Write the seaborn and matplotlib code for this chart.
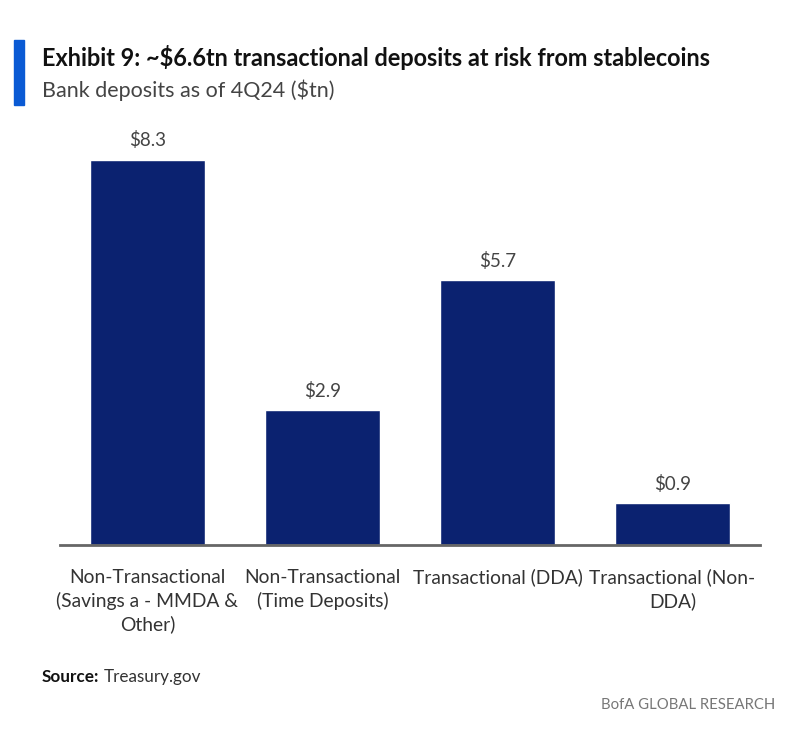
import matplotlib
matplotlib.use("Agg")
import matplotlib.pyplot as plt
import matplotlib.patches as mpatches
import seaborn as sns
import pandas as pd

categories = ["Non-Transactional\n(Savings a - MMDA &\nOther)",
              "Non-Transactional\n(Time Deposits)",
              "Transactional (DDA)",
              "Transactional (Non-\nDDA)"]
values = [8.3, 2.9, 5.7, 0.9]
value_labels = ["$8.3", "$2.9", "$5.7", "$0.9"]

sns.set_theme(style="white")
fam = ["Lato", "DejaVu Sans"]
plt.rcParams['font.family'] = fam

df = pd.DataFrame({"cat": categories, "val": values})

fig = plt.figure(figsize=(7.92, 7.34), dpi=100)
renderer = fig.canvas.get_renderer()


def fit(t, target_px):
    bb = t.get_window_extent(renderer=renderer)
    t.set_fontsize(t.get_fontsize() * target_px / bb.width)
    return t


ax = fig.add_axes([60/792, 1-545/734, 700/792, (545-127)/734])
sns.barplot(data=df, x="cat", y="val", color="#0b2270", width=0.657,
            saturation=1, ax=ax)
ax.set_xlim(-0.5, 3.5)
ax.set_ylim(0, 9.0)
for i, (v, lab) in enumerate(zip(values, value_labels)):
    ax.text(i, v + 0.22, lab, ha="center", va="bottom", fontsize=13.5,
            color="#444444")
ax.set_xlabel("")
ax.set_ylabel("")
ax.set_yticks([])
for s in ["top", "right", "left"]:
    ax.spines[s].set_visible(False)
ax.spines["bottom"].set_color("#666666")
ax.spines["bottom"].set_linewidth(2)

# tick label size fitted to reference width of "Transactional (DDA)"
probe = fig.text(0, 0, "Transactional (DDA)", fontsize=13)
fit(probe, 170)
tick_fs = probe.get_fontsize()
probe.remove()
ax.tick_params(axis="x", length=0, pad=17, labelsize=tick_fs, labelcolor="#333333")
for lab in ax.get_xticklabels():
    lab.set_linespacing(1.4)

# accent bar
fig.patches.append(mpatches.Rectangle((14/792, 1-105/734), 10/792, 65/734,
                                      transform=fig.transFigure,
                                      color="#0a5ad4", zorder=5))
t1 = fig.text(42/792, 1-58/734, "Exhibit 9: ~$6.6tn transactional deposits at risk from stablecoins",
              fontsize=15.5, fontweight="bold", color="#111111", va="center", ha="left")
fit(t1, 670)
t2 = fig.text(42/792, 1-90/734, "Bank deposits as of 4Q24 ($tn)",
              fontsize=13.5, color="#444444", va="center", ha="left")
fit(t2, 293)
s1 = fig.text(42/792, 1-677/734, "Source:", fontsize=11.5, fontweight="bold",
              color="#111111", va="center", ha="left")
fit(s1, 57)
s2 = fig.text(104/792, 1-677/734, "Treasury.gov", fontsize=11.5,
              color="#333333", va="center", ha="left")
fit(s2, 98)
b = fig.text(775/792, 1-705/734, "BofA GLOBAL RESEARCH", fontsize=12.5,
             color="#777777", va="center", ha="right")
fit(b, 175)

fig.savefig("out.png", dpi=100)
